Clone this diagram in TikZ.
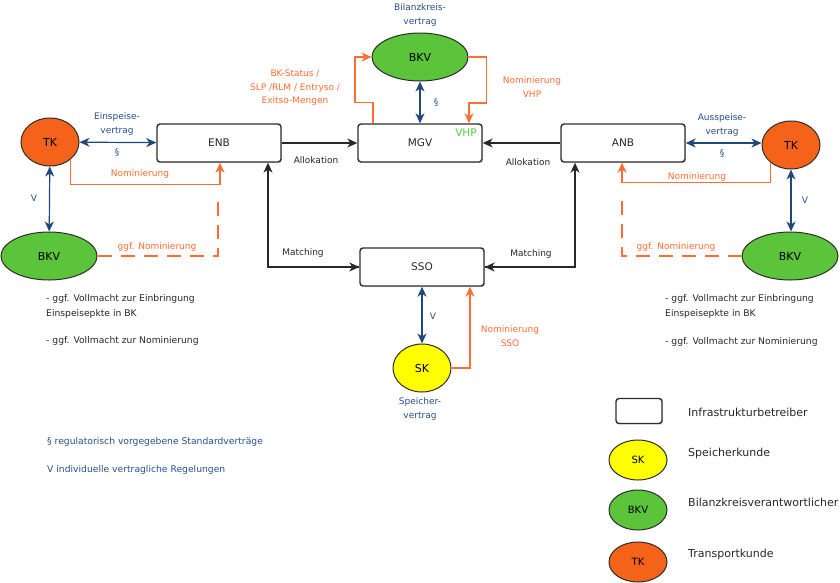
\documentclass[tikz,border=0pt]{standalone}
\usepackage{fontspec}
\setmainfont{DejaVu Sans}
\usetikzlibrary{shapes.geometric,arrows.meta,calc,shadows}
\definecolor{onl}{RGB}{255,110,50}
\definecolor{bln}{RGB}{31,73,125}
\definecolor{blt}{RGB}{40,80,140}
\definecolor{tkf}{RGB}{245,98,25}
\definecolor{bkf}{RGB}{92,196,58}
\definecolor{skf}{RGB}{255,255,0}
\definecolor{vhp}{RGB}{80,210,60}
\definecolor{txt}{RGB}{40,40,40}
\definecolor{edg}{RGB}{45,45,45}
\tikzset{
  tip/.style={-{Stealth[length=10pt,width=9pt,inset=3pt]}},
  box/.style={draw=edg,line width=1.4pt,rounded corners=3pt,fill=white,minimum width=124pt,minimum height=38pt,inner sep=0pt,font=\fontsize{10.5}{12}\selectfont,text=txt,drop shadow={shadow xshift=1.2pt,shadow yshift=-1.2pt,opacity=0.25}},
  ell/.style={ellipse,draw=edg,line width=1pt,inner sep=0pt,font=\fontsize{11}{12}\selectfont,text=black},
  tkst/.style={ell,fill=tkf,minimum width=58pt,minimum height=48pt},
  bkst/.style={ell,fill=bkf,minimum width=96pt,minimum height=48pt},
  skst/.style={ell,fill=skf,minimum width=58pt,minimum height=48pt},
  lgst/.style={ell,minimum width=58pt,minimum height=40pt,font=\fontsize{10}{12}\selectfont},
  barr/.style={draw=bln,line width=1.2pt,{Stealth[length=10pt,width=9pt,inset=3pt]}-{Stealth[length=10pt,width=9pt,inset=3pt]}},
  karr/.style={draw=txt,line width=1.1pt},
  onom/.style={draw=onl,line width=1.1pt},
  lab/.style={font=\fontsize{9}{13.5}\selectfont,inner sep=0pt,align=center},
  olab/.style={lab,text=onl},
  blab/.style={lab,text=blt},
  klab/.style={lab,text=txt},
  note/.style={font=\fontsize{9.2}{15}\selectfont,inner sep=0pt,align=left,anchor=west,text=txt},
  leg/.style={font=\fontsize{11}{12}\selectfont,inner sep=0pt,anchor=west,text=txt}
}
\begin{document}
\begin{tikzpicture}[x=1pt,y=-1pt]
\fill[white] (0,0) rectangle (840,582);
\useasboundingbox (0,0) rectangle (840,582);
% boxes
\node[box] (enb) at (219,143) {ENB};
\node[box] (mgv) at (420,143) {MGV};
\node[box] (anb) at (623,143) {ANB};
\node[box] (sso) at (422,267) {SSO};
\node[font=\fontsize{10.5}{12}\selectfont,text=vhp,inner sep=0pt] (vhp) at (466,133) {VHP};
% ellipses
\node[tkst] (tkL) at (50,142) {TK};
\node[bkst] (bkvL) at (49,256) {BKV};
\node[tkst] (tkR) at (791,145) {TK};
\node[bkst] (bkvR) at (790,256) {BKV};
\node[bkst] (bkvT) at (420,57) {BKV};
\node[skst] (sk) at (422,368) {SK};
% blue contracts
\draw[barr] (tkL) -- (enb);
\draw[barr] (tkL) -- (bkvL);
\draw[barr] (anb.east) -- (anb.east -| tkR.west);
\draw[barr] (tkR.south) -- (tkR.south |- bkvR.north);
\draw[barr] (bkvT) -- (mgv);
\draw[barr] (sso) -- (sk);
% black
\draw[karr,tip] (enb) -- (mgv);
\draw[karr,tip] (anb) -- (mgv);
\draw[karr,tip] (sso.west) -| ($(enb.south)+(49,0)$);
\draw[karr,tip] ($(enb.south)+(49,40)$) |- (sso.west);
\draw[karr,tip] (sso.east) -| ($(anb.south)+(-48,0)$);
\draw[karr,tip] ($(anb.south)+(-48,40)$) |- (sso.east);
% orange
\draw[onom,tip] (tkL.-41) |- ($(enb.south)+(1,22)$) -- ($(enb.south)+(1,0)$);
\draw[onom,tip] (tkR.-139) |- ($(anb.south)+(-1,20)$) -- ($(anb.south)+(-1,0)$);
\coordinate (dL) at (218,198);
\coordinate (dR) at (622,198);
\draw[onom,dash pattern=on 14pt off 9pt] (bkvL.east) -| (dL);
\draw[onom,dash pattern=on 14pt off 9pt] (bkvR.west) -| (dR);
\draw[onom,tip] ($(mgv.north)+(-47,0)$) -- ++(0,-21) -- ++(-18,0) |- (bkvT.west);
\draw[onom,tip] (bkvT.east) -- ++(18,0) -- ++(0,46) -| ($(mgv.north)+(49,0)$);
\draw[onom,tip] (sk.east) -| ($(sso.south)+(48,0)$);
% labels
\node[blab] (l1) at (117,124) {Einspeise-\\vertrag};
\node[blab] (l2) at (117,153) {\S};
\node[blab] (l3) at (34,198) {V};
\node[olab] (l4) at (140,174) {Nominierung};
\node[olab] (l5) at (157,247) {ggf. Nominierung};
\node[klab] (l6) at (316,160) {Allokation};
\node[klab] (l7) at (528,162) {Allokation};
\node[klab] (l8) at (303,253) {Matching};
\node[klab] (l9) at (531,254) {Matching};
\node[blab] (l10) at (436,103) {\S};
\node[olab] (l11) at (295,88) {BK-Status /\\SLP /RLM / Entryso /\\Exitso-Mengen};
\node[olab] (l12) at (532,87) {Nominierung\\VHP};
\node[blab] (l13) at (420,15) {Bilanzkreis-\\vertrag};
\node[blab] (l14) at (722,125) {Ausspeise-\\vertrag};
\node[blab] (l15) at (722,154) {\S};
\node[blab] (l16) at (805,200) {V};
\node[olab] (l17) at (697,177) {Nominierung};
\node[olab] (l18) at (676,247) {ggf. Nominierung};
\node[blab] (l19) at (433,316) {V};
\node[olab] (l20) at (510,336) {Nominierung\\SSO};
\node[blab] (l21) at (420,409) {Speicher-\\vertrag};
% notes
\node[note] (n1) at (46,306) {- ggf. Vollmacht zur Einbringung\\Einspeisepkte in BK};
\node[note] (n2) at (46,341) {- ggf. Vollmacht zur Nominierung};
\node[note] (n3) at (665,306) {- ggf. Vollmacht zur Einbringung\\Einspeisepkte in BK};
\node[note] (n4) at (665,342) {- ggf. Vollmacht zur Nominierung};
\node[note,text=blt] (n5) at (47,442) {\S{} regulatorisch vorgegebene Standardverträge};
\node[note,text=blt] (n6) at (47,470) {V individuelle vertragliche Regelungen};
% legend
\node[draw=edg,line width=1.4pt,rounded corners=3pt,minimum width=46pt,minimum height=25pt,inner sep=0pt,drop shadow={shadow xshift=1.2pt,shadow yshift=-1.2pt,opacity=0.25},fill=white] (lgbox) at (639,411) {};
\node[lgst,fill=skf] (lgsk) at (638,460) {SK};
\node[lgst,fill=bkf] (lgbk) at (638,510) {BKV};
\node[lgst,fill=tkf] (lgtk) at (638,562) {TK};
\node[leg] (t1) at (688,412) {Infrastrukturbetreiber};
\node[leg] (t2) at (688,453) {Speicherkunde};
\node[leg] (t3) at (688,502) {Bilanzkreisverantwortlicher};
\node[leg] (t4) at (688,554) {Transportkunde};
\end{tikzpicture}
\end{document}
